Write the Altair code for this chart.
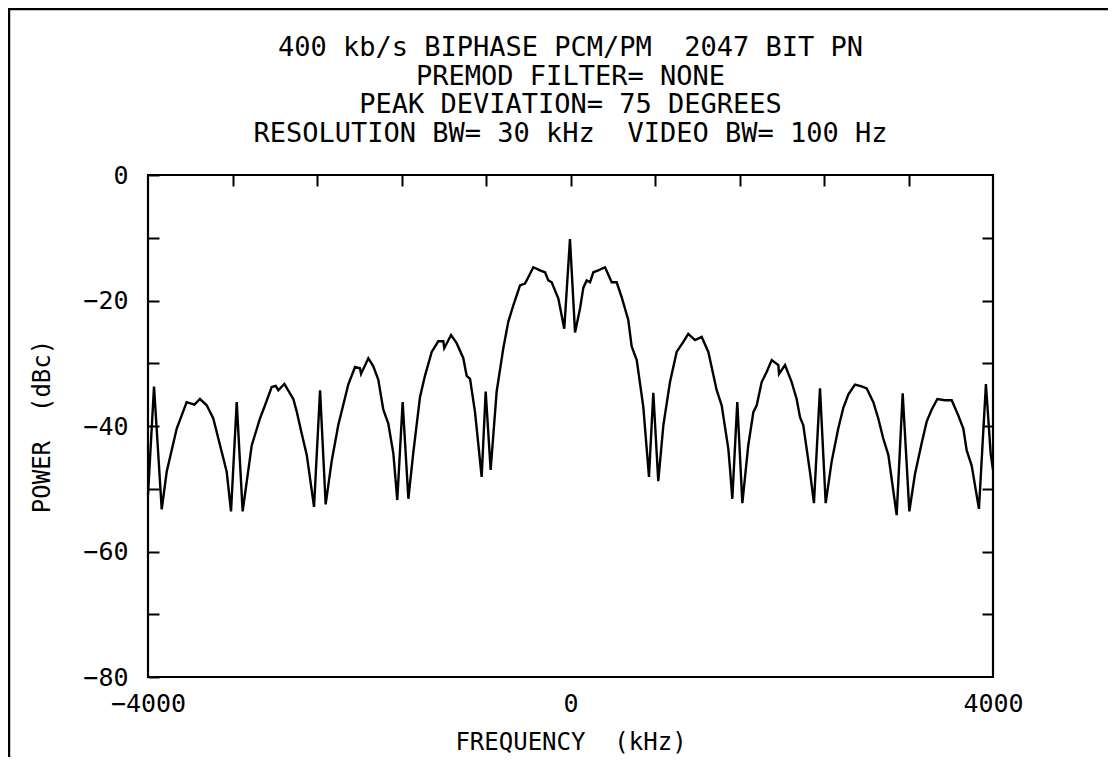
import altair as alt
import pandas as pd

# ---- data ----
freq_khz = [
    -4000, -3943, -3870, -3823, -3728, -3681, -3634, -3560, -3508, -3444, -3382, -3334,
    -3255, -3214, -3160, -3104, -3018, -2940, -2892, -2829, -2790, -2766, -2709, -2624,
    -2592, -2545, -2497, -2428, -2371, -2318, -2261, -2198, -2151, -2104, -2040, -1993,
    -1983, -1914, -1867, -1820, -1772, -1725, -1677, -1640, -1589, -1535, -1488, -1425,
    -1378, -1314, -1252, -1204, -1195, -1131, -1078, -1015, -983, -951, -904, -841,
    -803, -756, -699, -636, -589, -542, -478, -431, -415, -352, -289, -241,
    -210, -178, -115, -59, -5, 43, 90, 121, 153, 185, 216, 263,
    327, 390, 437, 485, 547, 579, 627, 689, 743, 784, 831, 879,
    942, 1005, 1068, 1115, 1179, 1242, 1305, 1384, 1431, 1494, 1510, 1532,
    1579, 1627, 1683, 1731, 1763, 1810, 1857, 1905, 1968, 1974, 2031, 2094,
    2141, 2173, 2204, 2267, 2305, 2362, 2416, 2473, 2535, 2583, 2630, 2693,
    2757, 2804, 2867, 2914, 2961, 3009, 3088, 3145, 3208, 3261, 3325, 3372,
    3419, 3473, 3545, 3609, 3671, 3719, 3751, 3798, 3867, 3933, 3978, 4000,
]
power_dbc = [
    -51.0, -33.7, -53.3, -47.3, -40.4, -38.3, -36.2, -36.6, -35.7, -36.7, -38.8, -42.0,
    -47.3, -53.6, -36.2, -53.6, -43.1, -38.8, -36.7, -33.8, -33.6, -34.3, -33.3, -35.7,
    -37.7, -41.2, -44.6, -52.9, -34.3, -52.5, -45.6, -39.8, -36.6, -33.4, -30.6, -30.8,
    -31.7, -29.2, -30.5, -32.6, -37.4, -39.6, -44.4, -51.8, -36.2, -51.6, -44.2, -35.4,
    -32.0, -28.2, -26.5, -26.5, -27.6, -25.5, -26.8, -29.2, -32.0, -32.5, -37.8, -48.1,
    -34.5, -47.0, -34.5, -27.6, -23.4, -20.8, -17.6, -17.3, -16.8, -14.7, -15.2, -15.5,
    -16.8, -17.1, -19.7, -24.5, -10.2, -25.1, -21.3, -18.0, -16.8, -17.1, -15.5, -15.2,
    -14.7, -17.1, -17.1, -19.5, -23.1, -27.3, -29.5, -36.9, -48.1, -34.7, -48.8, -39.9,
    -33.0, -28.2, -26.6, -25.3, -26.3, -25.8, -28.2, -34.3, -36.7, -43.6, -46.8, -51.6,
    -36.2, -52.3, -43.1, -37.8, -36.7, -33.0, -31.4, -29.5, -30.3, -31.7, -30.3, -33.0,
    -35.7, -38.6, -39.9, -47.3, -52.3, -34.0, -52.3, -45.6, -40.4, -37.1, -35.0, -33.4,
    -33.7, -34.0, -36.2, -38.8, -42.0, -44.6, -54.2, -34.8, -53.6, -47.7, -42.7, -39.3,
    -37.4, -35.7, -35.9, -35.9, -38.3, -40.4, -43.9, -46.3, -53.2, -33.3, -44.4, -47.0,
]

title_lines = [
    "400 kb/s BIPHASE PCM/PM\u00a0\u00a02047 BIT PN",
    "PREMOD FILTER= NONE",
    "PEAK DEVIATION= 75 DEGREES",
    "RESOLUTION BW= 30 kHz\u00a0\u00a0VIDEO BW= 100 Hz",
]
x_title = "FREQUENCY\u00a0\u00a0(kHz)"
y_title = "POWER\u00a0\u00a0(dBc)"

x_domain = [-4000, 4000]
y_domain = [-80, 0]
x_label_values = [-4000, 0, 4000]
x_tick_values = [-3200, -2400, -1600, -800, 0, 800, 1600, 2400, 3200]
y_left_values = [-80, -70, -60, -50, -40, -30, -20, -10, 0]
y_right_values = [-70, -60, -50, -40, -30, -20, -10]

FONT = "DejaVu Sans Mono"

df = pd.DataFrame({"f": freq_khz, "p": power_dbc})
one_row = pd.DataFrame({"k": [0]})

x_scale = alt.Scale(domain=x_domain, nice=False, zero=False)
y_scale = alt.Scale(domain=y_domain, nice=False, zero=False)

main = alt.Chart(df).mark_line(color="black", strokeWidth=2.4).encode(
    x=alt.X(
        "f:Q", scale=x_scale, title=x_title,
        axis=alt.Axis(
            orient="bottom", values=x_label_values, ticks=False, tickSize=0,
            domain=False, grid=False, format="d", labelFlush=False,
            labelOverlap=False, labelPadding=14, labelFont=FONT,
            labelFontSize=25, labelColor="black", titleFont=FONT,
            titleFontSize=24, titleFontWeight="normal", titleColor="black",
            titlePadding=14,
        ),
    ),
    y=alt.Y(
        "p:Q", scale=y_scale, title=y_title,
        axis=alt.Axis(
            orient="left", values=y_left_values, offset=-11, tickSize=11,
            tickWidth=2, tickColor="black", domain=False, grid=False,
            format="d", labelOverlap=False,
            labelExpr="datum.value % 20 == 0 ? datum.label : ''",
            labelPadding=20, labelFont=FONT, labelFontSize=25,
            labelColor="black", titleFont=FONT, titleFontSize=24,
            titleFontWeight="normal", titleColor="black", titlePadding=28,
        ),
    ),
)

ghost = alt.Chart(df).mark_line(opacity=0).encode(
    x=alt.X(
        "f:Q", scale=x_scale, title=None,
        axis=alt.Axis(
            orient="top", values=x_tick_values, offset=-11, tickSize=11,
            tickWidth=2, tickColor="black", labels=False, domain=False,
            grid=False,
        ),
    ),
    y=alt.Y(
        "p:Q", scale=y_scale, title=None,
        axis=alt.Axis(
            orient="right", values=y_right_values, offset=-11, tickSize=11,
            tickWidth=2, tickColor="black", labels=False, domain=False,
            grid=False,
        ),
    ),
)

# plot-area border, drawn through the data scales
border = alt.Chart(one_row).mark_rect(
    fillOpacity=0, stroke="black", strokeWidth=2.2
).encode(
    x=alt.X(datum=x_domain[0], scale=x_scale, axis=None),
    x2=alt.datum(x_domain[1]),
    y=alt.Y(datum=y_domain[0], scale=y_scale, axis=None),
    y2=alt.datum(y_domain[1]),
)

# outer page frame (decoration)
frame = alt.Chart(one_row).mark_rect(
    fillOpacity=0, stroke="black", strokeWidth=2.5
).encode(
    x=alt.value(-139), x2=alt.value(2000), y=alt.value(-166), y2=alt.value(2000)
)

chart = (
    alt.layer(frame, border, main, ghost)
    .resolve_scale(x="independent", y="independent")
    .properties(
        width=845,
        height=502,
        padding={"left": 140, "top": 167, "right": 115, "bottom": 80},
        autosize=alt.AutoSizeParams(type="none"),
        title=alt.TitleParams(
            text=title_lines, anchor="middle", frame="group", font=FONT,
            fontSize=27, fontWeight="normal", color="black", lineHeight=28.5,
            baseline="bottom", offset=0, dy=167,
        ),
    )
    .configure_view(stroke="black", strokeWidth=2)
    .configure(background="white")
)

chart.save("out.html", embed_options={"renderer": "svg", "actions": False})
